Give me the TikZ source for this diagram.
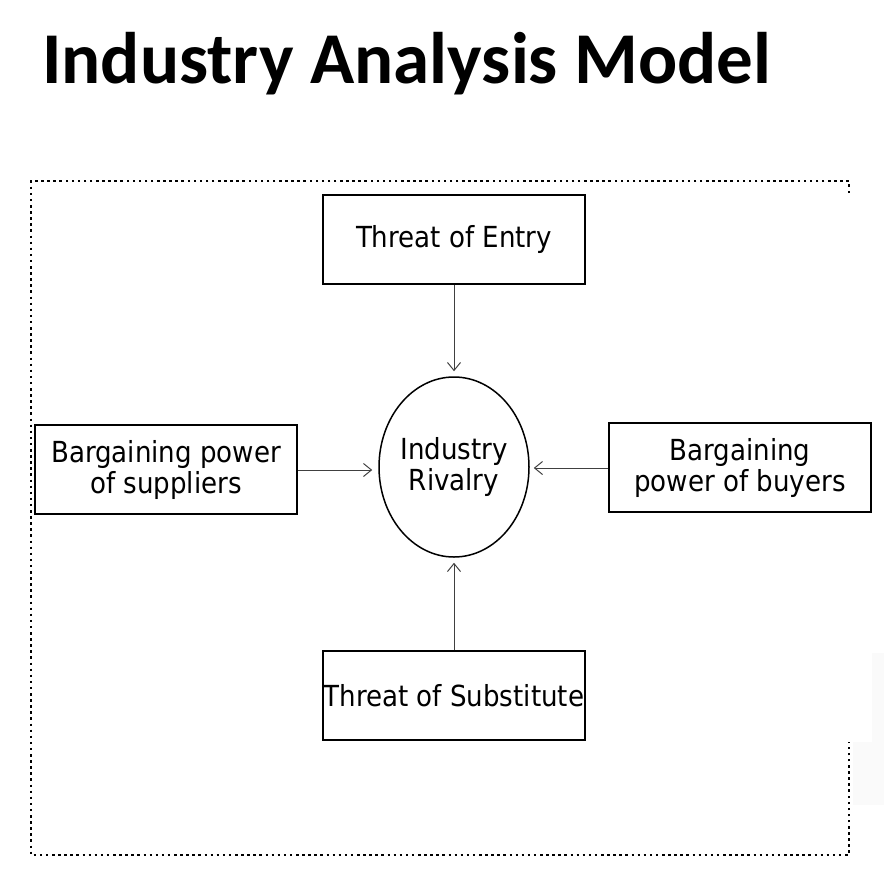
\documentclass[tikz,border=0pt]{standalone}
\usepackage{fontspec}
\setmainfont{DejaVu Sans Condensed}
\newfontfamily\titlefont{Carlito}
\usetikzlibrary{shapes.geometric,arrows.meta}
\begin{document}
\begin{tikzpicture}[x=1pt,y=-1pt,
  forcebox/.style={draw=black,line width=1.5pt,minimum width=262pt,minimum height=89pt,inner sep=0pt,align=center,font=\fontsize{29}{31}\selectfont},
  rivalry/.style={draw=black,ellipse,line width=1.5pt,minimum width=150pt,minimum height=180pt,inner xsep=-6pt,inner ysep=0pt,align=center,font=\fontsize{29}{31}\selectfont},
  flow/.style={draw=black!75,line width=1pt,-{Straight Barb[length=8pt,width=13pt,line width=1pt]}},
  dotborder/.style={draw=black,line width=2.5pt,dash pattern=on 2.5pt off 3.6pt}]
\useasboundingbox (0,0) rectangle (884,892);
\fill[black!2] (872,653) rectangle (884,805);
\fill[black!2] (853,742) rectangle (884,805);
\node[anchor=base west,inner sep=0pt,font=\titlefont\bfseries\fontsize{73}{80}\selectfont] (title) at (42,83) {Industry Analysis Model};
\draw[dotborder] (849,193) -- (849,181) -- (31,181) -- (31,855) -- (849,855) -- (849,742);
\node[forcebox] (entry) at (454,239.5) {Threat of Entry};
\node[forcebox] (suppliers) at (166,469.5) {Bargaining power\\of suppliers};
\node[forcebox] (buyers) at (740,467.5) {Bargaining\\power of buyers};
\node[forcebox] (substitute) at (454,695.5) {Threat of Substitute};
\node[rivalry] (rival) at (454,467) {Industry\\Rivalry};
\draw[flow] (entry.south) -- ([yshift=5pt]rival.north);
\draw[flow] (suppliers.east |- 0,470) -- ([xshift=-6pt]rival.west |- 0,470);
\draw[flow] (buyers.west |- 0,468) -- ([xshift=4pt]rival.east |- 0,468);
\draw[flow] (substitute.north) -- ([yshift=-5pt]rival.south);
\end{tikzpicture}
\end{document}
